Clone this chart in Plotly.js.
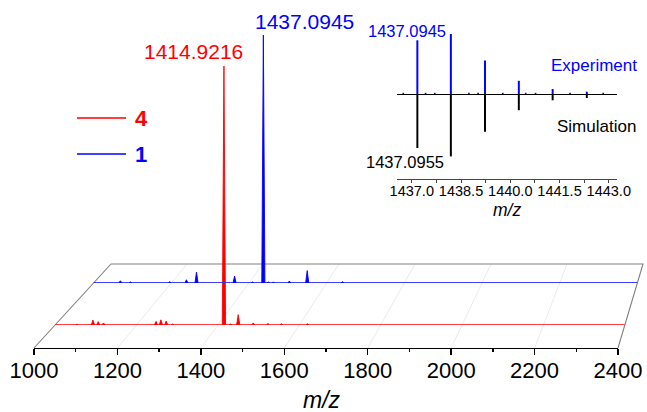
<!DOCTYPE html>
<html>
<head>
<meta charset="utf-8">
<script src="https://cdn.plot.ly/plotly-3.0.1.min.js"></script>
<style>html,body{margin:0;padding:0;background:#fff;}#chart{width:647px;height:412px;}</style>
</head>
<body>
<div id="chart"></div>
<script>
// ---------------- data ----------------
// Compound 4 (red) : m/z and relative intensity (%)
var red4Mz  = [1054, 1093, 1106, 1119, 1248, 1260, 1273, 1289, 1333, 1414.9216, 1431, 1450, 1487, 1523, 1556, 1620];
var red4Int = [0.3, 1.9, 1.3, 0.8, 1.4, 2.0, 1.5, 0.4, 0.2, 100, 0.4, 4.0, 0.8, 0.6, 0.5, 0.5];
// Compound 1 (blue)
var blue1Mz  = [1044, 1057, 1069, 1095, 1196, 1239, 1265, 1363, 1378, 1409, 1437.0945, 1450, 1463, 1504, 1550, 1641];
var blue1Int = [0.2, 0.2, 0.9, 0.4, 0.5, 1.3, 4.4, 2.8, 0.3, 0.4, 100, 0.4, 0.3, 0.8, 5.0, 0.5];
// Inset isotope pattern
var insetMz   = [1437.17, 1438.19, 1439.23, 1440.26, 1441.29, 1442.33];
var expInt    = [89.5, 100, 56, 22, 8.3, 3.8];
var simInt    = [90, 104, 63, 27, 10.5, 6.7];
var expNoiseMz  = [1436.74, 1437.42, 1437.70, 1438.74, 1439.02, 1439.77, 1440.47, 1440.77, 1441.82, 1442.83];
var expNoiseInt = [2, 2, 2, 2, 2, 2, 2, 2, 2, 2];
// labels
var mainTickVals = [1000, 1200, 1400, 1600, 1800, 2000, 2200, 2400];
var insetTickVals = [1437.0, 1438.5, 1440.0, 1441.5, 1443.0];
var legendNames = ['4', '1'];
var redLabel = '1414.9216', blueLabel = '1437.0945';
var expLabel = '1437.0945', simLabel = '1437.0955';
var axisTitle = '<i>m/z</i>';

// ---------------- layout helpers ----------------
var W = 647, H = 412;
function fx(p){ return p / W; }
function fy(p){ return 1 - p / H; }
var FONT = 'Liberation Sans, Arial, sans-serif';
var RED = '#ff0000', BLUE = '#0000ff';
// perspective plane geometry (pixels)
var plane = {yB: 348, yT: 264, bL: 34, bR: 618, tL: 111, tR: 643};
function edgeL(y){ var t = (plane.yB - y) / (plane.yB - plane.yT); return plane.bL + t * (plane.tL - plane.bL); }
function edgeR(y){ var t = (plane.yB - y) / (plane.yB - plane.yT); return plane.bR + t * (plane.tR - plane.bR); }
var redY = 325, redTop = 66, blueY = 283, blueTop = 35;

function peakPath(mz, inten, hw){
  var x = [1000], y = [0];
  for (var i = 0; i < mz.length; i++){
    x.push(mz[i] - hw, mz[i], mz[i] + hw);
    y.push(0, inten[i], 0);
  }
  x.push(2400); y.push(0);
  return {x: x, y: y};
}
var rp = peakPath(red4Mz, red4Int, 4);
var bp = peakPath(blue1Mz, blue1Int, 4);

var traces = [
  // carrier for the front m/z axis
  {x: [1000, 2400], y: [0, 0], xaxis: 'x', yaxis: 'y', mode: 'lines', line: {color: 'rgba(0,0,0,0)', width: 0}, hoverinfo: 'skip', showlegend: false},
  {x: [1000, 2400], y: [0, 0], xaxis: 'x2', yaxis: 'y2', mode: 'lines', line: {color: 'rgba(255,70,70,0.75)', width: 2}, hoverinfo: 'skip', showlegend: false},
  {x: rp.x, y: rp.y, xaxis: 'x2', yaxis: 'y2', mode: 'lines', fill: 'tozeroy', fillcolor: RED, line: {color: RED, width: 0.9}, name: legendNames[0], showlegend: false},
  {x: [1000, 2400], y: [0, 0], xaxis: 'x3', yaxis: 'y3', mode: 'lines', line: {color: 'rgba(70,70,255,0.75)', width: 2}, hoverinfo: 'skip', showlegend: false},
  {x: bp.x, y: bp.y, xaxis: 'x3', yaxis: 'y3', mode: 'lines', fill: 'tozeroy', fillcolor: BLUE, line: {color: BLUE, width: 0.9}, name: legendNames[1], showlegend: false},
  // inset
  {type: 'bar', x: insetMz, y: expInt, xaxis: 'x4', yaxis: 'y4', width: 0.06, marker: {color: BLUE, line: {width: 0}}, showlegend: false},
  {type: 'bar', x: insetMz, y: simInt.map(function(v){ return -v; }), xaxis: 'x4', yaxis: 'y4', width: 0.06, marker: {color: '#000', line: {width: 0}}, showlegend: false},
  {type: 'bar', x: expNoiseMz, y: expNoiseInt, xaxis: 'x4', yaxis: 'y4', width: 0.05, marker: {color: BLUE, line: {width: 0}}, showlegend: false}
];

function quietAxis(extra){
  var o = {showline: false, showticklabels: false, ticks: '', showgrid: false, zeroline: false, fixedrange: true};
  for (var k in extra) o[k] = extra[k];
  return o;
}

var shapes = [];
// faint perspective grid
for (var m = 1200; m <= 2200; m += 200){
  var f = (m - 1000) / 1400;
  shapes.push({type: 'line', xref: 'paper', yref: 'paper', layer: 'below',
    x0: fx(plane.bL + f * (plane.bR - plane.bL)), y0: fy(plane.yB),
    x1: fx(plane.tL + f * (plane.tR - plane.tL)), y1: fy(plane.yT),
    line: {color: '#ebebeb', width: 1}});
}
// plane outline
shapes.push({type: 'path', xref: 'paper', yref: 'paper', layer: 'below',
  path: 'M' + fx(plane.bL) + ',' + fy(plane.yB) + ' L' + fx(plane.tL) + ',' + fy(plane.yT) +
        ' L' + fx(plane.tR) + ',' + fy(plane.yT) + ' L' + fx(plane.bR) + ',' + fy(plane.yB),
  line: {color: '#808080', width: 1.1}});
// legend samples
shapes.push({type: 'line', xref: 'paper', yref: 'paper', x0: fx(77), x1: fx(126), y0: fy(118), y1: fy(118), line: {color: RED, width: 1.5}});
shapes.push({type: 'line', xref: 'paper', yref: 'paper', x0: fx(77), x1: fx(126), y0: fy(154), y1: fy(154), line: {color: BLUE, width: 1.5}});

var annotations = [
  {xref: 'paper', yref: 'paper', x: fx(133), y: fy(118), xanchor: 'left', yanchor: 'middle', showarrow: false, text: '<b>' + legendNames[0] + '</b>', font: {family: FONT, size: 22, color: RED}},
  {xref: 'paper', yref: 'paper', x: fx(133), y: fy(154), xanchor: 'left', yanchor: 'middle', showarrow: false, text: '<b>' + legendNames[1] + '</b>', font: {family: FONT, size: 22, color: BLUE}},
  {xref: 'x2', yref: 'y2', x: red4Mz[9], y: red4Int[9], xanchor: 'right', yanchor: 'bottom', xshift: 21, yshift: 1, showarrow: false, text: redLabel, font: {family: FONT, size: 21, color: RED}},
  {xref: 'x3', yref: 'y3', x: blue1Mz[10], y: blue1Int[10], xanchor: 'left', yanchor: 'bottom', xshift: -10, yshift: 0, showarrow: false, text: blueLabel, font: {family: FONT, size: 21, color: BLUE}},
  {xref: 'x4', yref: 'y4', x: insetMz[1], y: 105, xanchor: 'right', yanchor: 'middle', xshift: -3, showarrow: false, text: expLabel, font: {family: FONT, size: 16.5, color: BLUE}},
  {xref: 'x4', yref: 'y4', x: insetMz[1], y: -113, xanchor: 'right', yanchor: 'middle', xshift: -5, showarrow: false, text: simLabel, font: {family: FONT, size: 16.5, color: '#000'}},
  {xref: 'paper', yref: 'paper', x: fx(639), y: fy(65), xanchor: 'right', yanchor: 'middle', showarrow: false, text: 'Experiment', font: {family: FONT, size: 17, color: BLUE}},
  {xref: 'paper', yref: 'paper', x: fx(638), y: fy(127), xanchor: 'right', yanchor: 'middle', showarrow: false, text: 'Simulation', font: {family: FONT, size: 17, color: '#000'}},
  // inset axis title
  {xref: 'paper', yref: 'paper', x: fx(507), y: fy(210), xanchor: 'center', yanchor: 'middle', showarrow: false, text: axisTitle, font: {family: FONT, size: 17.5, color: '#000'}},
  // main axis title
  {xref: 'paper', yref: 'paper', x: fx(322), y: fy(400), xanchor: 'center', yanchor: 'middle', showarrow: false, text: axisTitle, font: {family: FONT, size: 23, color: '#000'}}
];

var insetScale = 0.6; // px per intensity unit
var layout = {
  width: W, height: H,
  margin: {l: 0, r: 0, t: 0, b: 0},
  paper_bgcolor: '#fff', plot_bgcolor: 'rgba(0,0,0,0)',
  showlegend: false,
  barmode: 'overlay',
  font: {family: FONT, color: '#000'},
  xaxis: {domain: [fx(plane.bL), fx(plane.bR)], range: [1000, 2400], anchor: 'y',
    showline: true, linecolor: '#000', linewidth: 1.3, mirror: false,
    ticks: 'outside', ticklen: 6, tickwidth: 1.3, tickcolor: '#000',
    tickvals: mainTickVals, ticktext: mainTickVals.map(String),
    ticklabelstandoff: -4,
    minor: {tickvals: [1100, 1300, 1500, 1700, 1900, 2100, 2300], ticks: 'outside', ticklen: 3, tickwidth: 1.3, tickcolor: '#000', showgrid: false},
    tickfont: {family: FONT, size: 22, color: '#000'},
    showgrid: false, zeroline: false, fixedrange: true, automargin: false},
  yaxis: quietAxis({domain: [fy(plane.yB), fy(plane.yT)], range: [0, 1], anchor: 'x'}),
  xaxis2: quietAxis({domain: [fx(edgeL(redY)), fx(edgeR(redY))], range: [1000, 2400], anchor: 'y2'}),
  yaxis2: quietAxis({domain: [fy(redY), fy(redTop)], range: [0, 100], anchor: 'x2'}),
  xaxis3: quietAxis({domain: [fx(edgeL(blueY)), fx(edgeR(blueY))], range: [1000, 2400], anchor: 'y3'}),
  yaxis3: quietAxis({domain: [fy(blueY), fy(blueTop)], range: [0, 100], anchor: 'x3'}),
  xaxis4: {domain: [fx(397), fx(617)], range: [1436.55, 1443.25], anchor: 'y4',
    showline: true, linecolor: '#444', linewidth: 1,
    ticks: 'outside', ticklen: 3, tickwidth: 1, tickcolor: '#444',
    tickvals: insetTickVals, ticktext: insetTickVals.map(function(v){ return v.toFixed(1); }),
    ticklabelstandoff: -4,
    minor: {tickvals: [1437.75, 1439.25, 1440.75, 1442.25], ticks: 'outside', ticklen: 3, tickwidth: 1, tickcolor: '#444', showgrid: false},
    tickfont: {family: FONT, size: 14.5, color: '#000'},
    showgrid: false, zeroline: false, fixedrange: true, automargin: false},
  yaxis4: quietAxis({domain: [fy(179), fy(20)], range: [-(179 - 94) / insetScale, (94 - 20) / insetScale], anchor: 'x4',
    zeroline: true, zerolinecolor: '#000', zerolinewidth: 1}),
  shapes: shapes,
  annotations: annotations
};

Plotly.newPlot('chart', traces, layout, {displayModeBar: false, staticPlot: true});
</script>
</body>
</html>
